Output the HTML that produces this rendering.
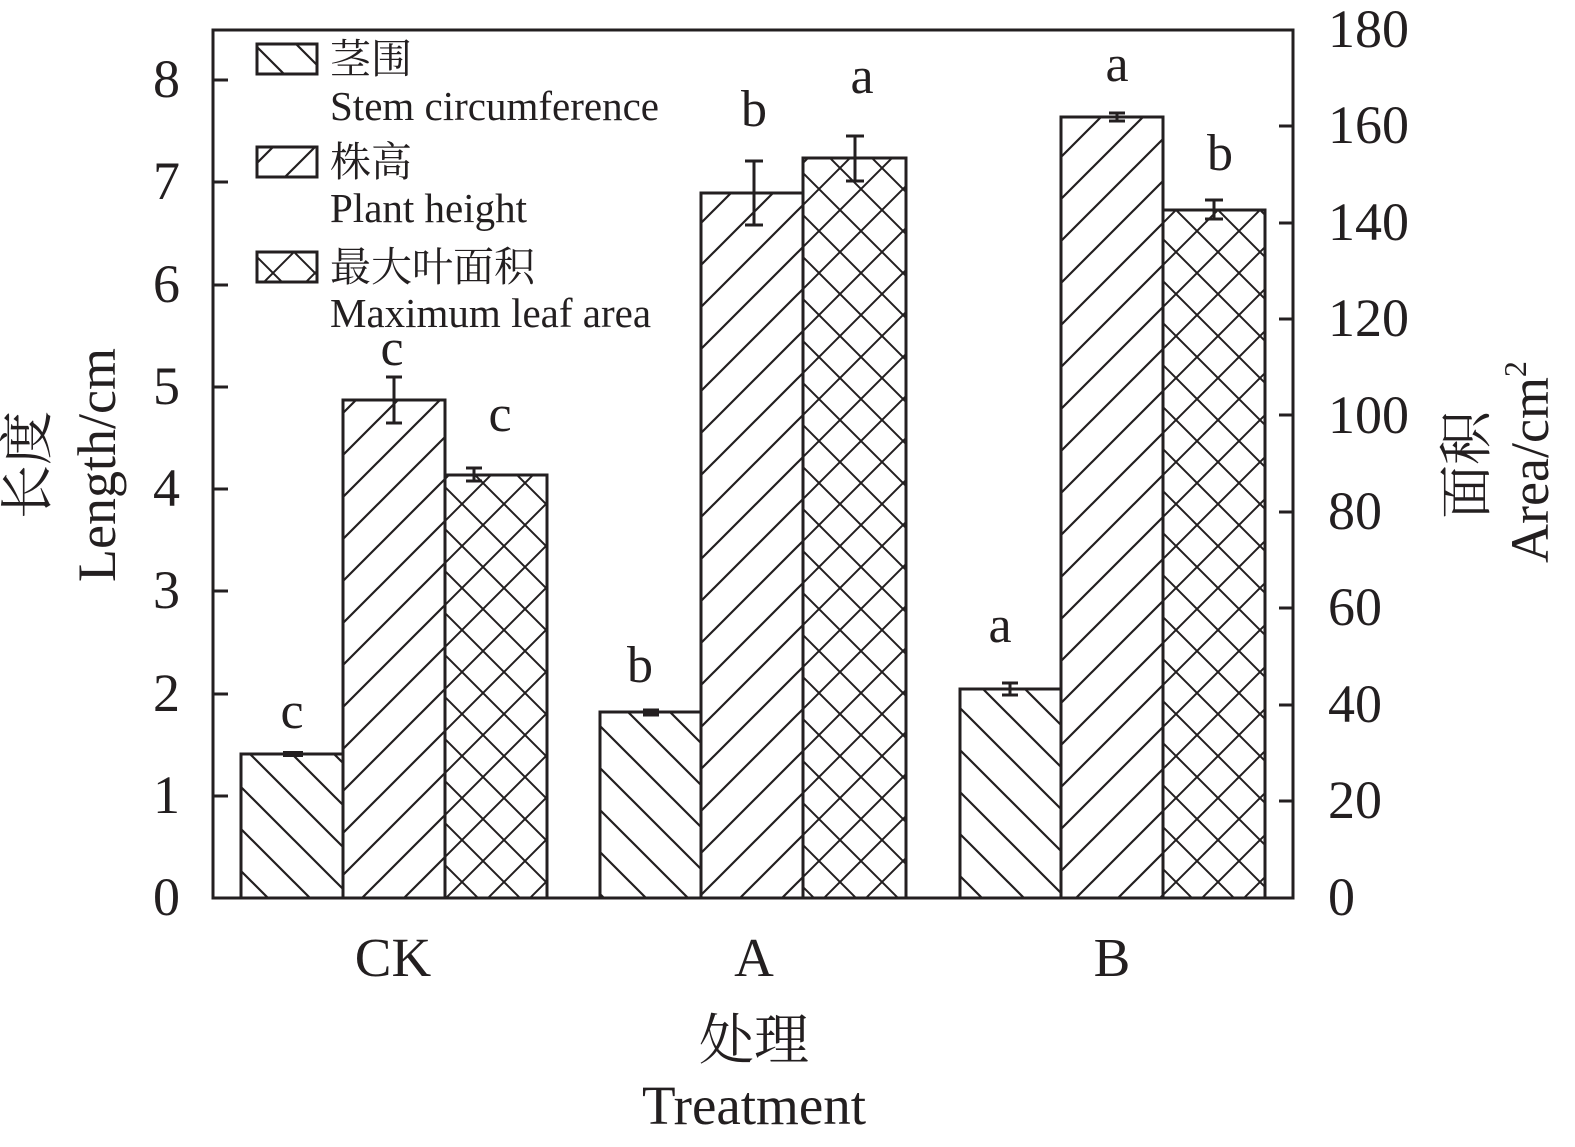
<!DOCTYPE html>
<html><head><meta charset="utf-8"><style>
html,body{margin:0;padding:0;background:#fff;}
svg{display:block;}
text{font-family:"Liberation Serif","Noto Serif CJK SC",serif;fill:#231f20;}
</style></head><body>
<svg width="1575" height="1147" viewBox="0 0 1575 1147" xmlns="http://www.w3.org/2000/svg">
<defs>
<pattern id="bs" patternUnits="userSpaceOnUse" width="42" height="42">
<path d="M-10,-10 L52,52 M-10,32 L10,52 M32,-10 L52,10" stroke="#231f20" stroke-width="2.2"/>
</pattern>
<pattern id="fs" patternUnits="userSpaceOnUse" width="42" height="42">
<path d="M-10,52 L52,-10 M-10,10 L10,-10 M32,52 L52,32" stroke="#231f20" stroke-width="2.2"/>
</pattern>
<pattern id="xs" patternUnits="userSpaceOnUse" width="42" height="42">
<path d="M-10,-10 L52,52 M-10,32 L10,52 M32,-10 L52,10 M-10,52 L52,-10 M-10,10 L10,-10 M32,52 L52,32" stroke="#231f20" stroke-width="2"/>
</pattern>
</defs>
<g stroke="#231f20" stroke-width="3">
<rect x="241" y="754" width="102" height="144" fill="url(#bs)"/>
<rect x="343" y="400" width="102" height="498" fill="url(#fs)"/>
<rect x="445" y="475" width="102" height="423" fill="url(#xs)"/>
<rect x="600" y="712" width="101" height="186" fill="url(#bs)"/>
<rect x="701" y="193" width="102" height="705" fill="url(#fs)"/>
<rect x="803" y="158" width="103" height="740" fill="url(#xs)"/>
<rect x="960" y="689" width="101" height="209" fill="url(#bs)"/>
<rect x="1061" y="117" width="102" height="781" fill="url(#fs)"/>
<rect x="1163" y="210" width="102" height="688" fill="url(#xs)"/>
<path fill="none" d="M394,377V423M386,377H402M386,423H402
M474,468V481M466,468H482M466,481H482
M754,161V225M745,161H763M745,225H763
M855,136V181M846,136H864M846,181H864
M1117,113V121M1109,113H1125M1109,121H1125
M1214,200V219M1205,200H1223M1205,219H1223
M1010,683V695M1002,683H1018M1002,695H1018
M651,710V715M643,710H659M643,715H659"/>
<rect x="283" y="751" width="20" height="6" fill="#231f20" stroke="none"/>
<rect x="213" y="30" width="1080" height="868" fill="none"/>
<path d="M213,796H228M213,694H228M213,591H228M213,489H228M213,387H228M213,285H228M213,182H228M213,80H228"/>
<path d="M1293,801H1279M1293,705H1279M1293,608H1279M1293,512H1279M1293,415H1279M1293,319H1279M1293,223H1279M1293,126H1279"/>
<rect x="257" y="44" width="60" height="30" fill="url(#bs)"/>
<rect x="257" y="147" width="60" height="30" fill="url(#fs)"/>
<rect x="257" y="252" width="60" height="30" fill="url(#xs)"/>
</g>
<g font-size="41">
<text x="330" y="73">茎围</text>
<text x="330" y="120">Stem circumference</text>
<text x="330" y="176">株高</text>
<text x="330" y="222">Plant height</text>
<text x="330" y="281">最大叶面积</text>
<text x="330" y="327">Maximum leaf area</text>
</g>
<g font-size="52" text-anchor="middle">
<text x="292" y="728">c</text>
<text x="392" y="365">c</text>
<text x="500" y="431">c</text>
<text x="640" y="682">b</text>
<text x="754" y="126">b</text>
<text x="862" y="93">a</text>
<text x="1000" y="642">a</text>
<text x="1117" y="81">a</text>
<text x="1220" y="170">b</text>
</g>
<g font-size="54" text-anchor="end">
<text x="180" y="915">0</text><text x="180" y="813">1</text><text x="180" y="711">2</text>
<text x="180" y="608">3</text><text x="180" y="506">4</text><text x="180" y="404">5</text>
<text x="180" y="302">6</text><text x="180" y="199">7</text><text x="180" y="97">8</text>
</g>
<g font-size="54" text-anchor="start">
<text x="1328" y="915">0</text><text x="1328" y="818">20</text><text x="1328" y="722">40</text>
<text x="1328" y="625">60</text><text x="1328" y="529">80</text><text x="1328" y="433">100</text>
<text x="1328" y="336">120</text><text x="1328" y="240">140</text><text x="1328" y="143">160</text>
<text x="1328" y="47">180</text>
</g>
<g font-size="55" text-anchor="middle">
<text x="393" y="976">CK</text>
<text x="754" y="976">A</text>
<text x="1112" y="976">B</text>
<text x="754" y="1059">处理</text>
<text x="754" y="1124">Treatment</text>
</g>
<text font-size="54" text-anchor="middle" transform="translate(46,465) rotate(-90)">长度</text>
<text font-size="54" text-anchor="middle" transform="translate(115,465) rotate(-90)">Length/cm</text>
<text font-size="54" text-anchor="middle" transform="translate(1485,465) rotate(-90)">面积</text>
<text font-size="54" text-anchor="middle" transform="translate(1548,462) rotate(-90)">Area/cm<tspan font-size="32" dy="-22">2</tspan></text>
</svg>
</body></html>
